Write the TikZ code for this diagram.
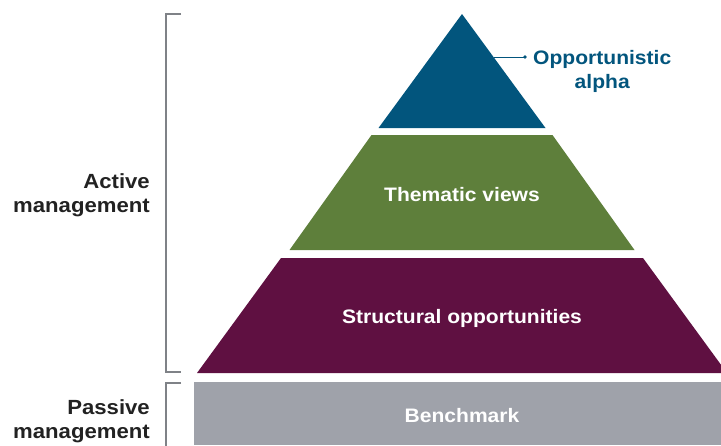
\documentclass[tikz,border=0pt]{standalone}
\usepackage{fontspec}
\setmainfont[FakeStretch=1.08]{Liberation Sans}
\definecolor{cblue}{HTML}{02557D}
\definecolor{cgreen}{HTML}{5E7F3B}
\definecolor{cmaroon}{HTML}{5F1041}
\definecolor{cgrey}{HTML}{9FA2AA}
\definecolor{cline}{HTML}{7F8287}
\definecolor{ctext}{HTML}{222222}
\begin{document}
\begin{tikzpicture}[x=1pt,y=-1pt,
  laytext/.style={font=\fontsize{19.5}{24}\selectfont\bfseries,text=white,inner sep=0pt},
  sidetext/.style={font=\fontsize{20.5}{24}\selectfont\bfseries,text=ctext,align=right,inner sep=0pt,anchor=east},
  brack/.style={draw=cline,line width=1.2pt}]
\useasboundingbox (0,0) rectangle (721,445);
\begin{scope}
\clip (0,0) rectangle (721,445);
% top triangle
\fill[cblue] (462,14) -- (545.5,128) -- (378.5,128) -- cycle;
% green trapezoid
\fill[cgreen] (371.5,135) -- (552.5,135) -- (634.5,250) -- (289.5,250) -- cycle;
% maroon trapezoid
\fill[cmaroon] (281,258) -- (643,258) -- (727,373) -- (197,373) -- cycle;
% benchmark
\fill[cgrey] (194,382) rectangle (721,445);
\end{scope}
\node[laytext] (thematic) at (462,195) {Thematic views};
\node[laytext] (structural) at (462,318) {Structural opportunities};
\node[laytext] (bench) at (462,416) {Benchmark};
\node[font=\fontsize{19.5}{24}\selectfont\bfseries,text=cblue,align=center,inner sep=0pt,anchor=west] (alpha) at (533,71) {Opportunistic\\alpha};
\coordinate (edge) at (493.5,57);
\coordinate (dot) at (525,57);
\draw[cblue,line width=1pt] (edge) -- (dot);
\fill[cblue] (dot) circle (1.8);
% brackets
\draw[brack] (181,14) -- (166,14) -- (166,372) -- (181,372);
\draw[brack] (181,383) -- (166,383) -- (166,446);
\node[sidetext] (active) at (150,195) {Active\\management};
\node[sidetext] (passive) at (150,421) {Passive\\management};
\end{tikzpicture}
\end{document}
